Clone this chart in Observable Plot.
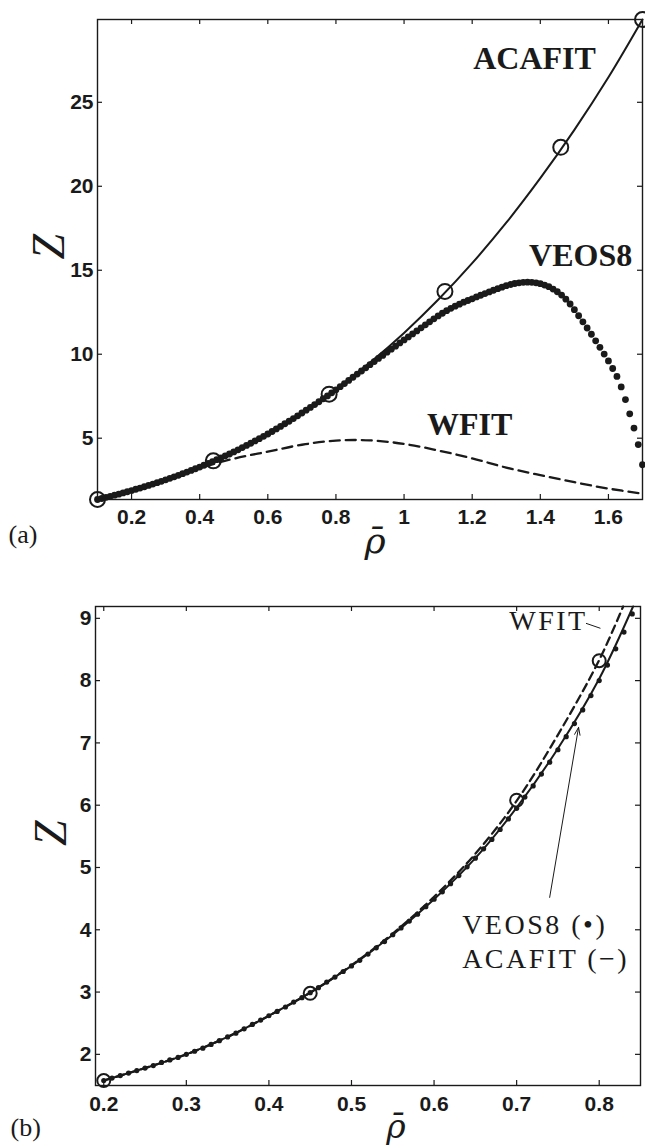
<!DOCTYPE html>
<html><head><meta charset="utf-8">
<script src="https://cdn.jsdelivr.net/npm/d3@7"></script>
<script src="https://cdn.jsdelivr.net/npm/@observablehq/plot@0.6"></script>
<style>
body{margin:0;background:#fff;}
#chart{width:645px;height:1148px;overflow:hidden;background:#fff;}
#chart svg{display:block;}
</style></head><body><div id="chart"></div>
<script>
// ---------- Panel (a) data ----------
const fitRhoA = [0.1,0.2,0.3,0.4,0.5,0.6,0.7,0.8,0.9,1.0,1.1,1.2,1.3,1.4,1.5,1.6,1.7];
const acafitA = [1.35,1.88,2.52,3.30,4.22,5.29,6.52,7.92,9.50,11.27,13.24,15.42,17.83,20.48,23.36,26.49,29.93];
const wfitA   = [1.35,1.88,2.52,3.22,3.78,4.20,4.61,4.86,4.87,4.66,4.27,3.80,3.25,2.80,2.38,2.00,1.70];
const veosRhoA0 = 0.1, veosRhoAStep = 0.0125;
const veosA = [1.35,1.41,1.48,1.54,1.61,1.67,1.74,1.81,1.88,
 1.96,2.03,2.11,2.19,2.27,2.35,2.43,2.52,
 2.61,2.70,2.79,2.89,2.98,3.08,3.18,3.28,
 3.39,3.50,3.61,3.72,3.83,3.95,4.06,4.18,
 4.31,4.44,4.57,4.70,4.84,4.97,5.11,5.25,
 5.40,5.55,5.70,5.86,6.01,6.17,6.33,6.50,
 6.67,6.83,7.00,7.17,7.35,7.52,7.70,7.88,
 8.07,8.25,8.44,8.63,8.82,9.00,9.19,9.38,
 9.56,9.75,9.93,10.12,10.30,10.48,10.67,10.85,
 11.03,11.21,11.39,11.57,11.75,11.93,12.11,12.28,
 12.44,12.59,12.73,12.86,12.98,13.10,13.20,13.30,
 13.41,13.51,13.61,13.71,13.81,13.90,13.99,14.08,
 14.15,14.21,14.25,14.28,14.29,14.28,14.25,14.20,
 14.12,14.02,13.88,13.72,13.52,13.28,12.99,12.65,
 12.29,11.93,11.56,11.19,10.80,10.41,10.01,9.60,
 9.15,8.68,8.05,7.30,6.45,5.60,4.62,3.42];
const circRhoA = [0.1,0.44,0.78,1.12,1.46,1.7];
const circZA   = [1.35,3.65,7.62,13.74,22.32,29.93];
const xTicksA = [0.2,0.4,0.6,0.8,1,1.2,1.4,1.6];
const yTicksA = [5,10,15,20,25];
const labelTextA = ["ACAFIT","VEOS8","WFIT"];
const labelRhoA  = [1.203,1.367,1.067];
const labelZA    = [26.99,15.23,5.2];

// ---------- Panel (b) data ----------
const fitRhoB  = [0.2,0.25,0.3,0.35,0.4,0.45,0.5,0.55,0.6,0.65,0.7,0.75,0.8,0.841];
const acafitB  = [1.58,1.78,2.00,2.28,2.62,2.99,3.42,3.92,4.49,5.15,5.96,6.91,8.03,9.19];
const wfitRhoB = [0.2,0.25,0.3,0.35,0.4,0.45,0.5,0.55,0.6,0.65,0.7,0.75,0.8,0.829];
const wfitB    = [1.58,1.78,2.00,2.28,2.62,2.99,3.43,3.94,4.53,5.22,6.07,7.13,8.33,9.19];
const veosRhoB0 = 0.2, veosRhoBStep = 0.01;
const veosB = [1.58,1.62,1.66,1.70,1.74,1.78,1.82,1.87,1.91,1.95,
 2.00,2.05,2.10,2.16,2.22,2.28,2.34,2.41,2.48,2.55,
 2.62,2.69,2.76,2.84,2.91,2.99,3.07,3.16,3.24,3.33,
 3.42,3.51,3.61,3.71,3.81,3.92,4.03,4.14,4.25,4.37,
 4.49,4.61,4.74,4.87,5.01,5.15,5.30,5.45,5.61,5.78,
 5.95,6.13,6.31,6.50,6.69,6.89,7.10,7.31,7.53,7.76,
 8.00,8.25,8.51,8.78,9.07];
const circRhoB = [0.2,0.45,0.7,0.8];
const circZB   = [1.58,2.98,6.08,8.32];
const xTicksB = [0.2,0.3,0.4,0.5,0.6,0.7,0.8];
const yTicksB = [2,3,4,5,6,7,8,9];
const labelTextB = ["WFIT","VEOS8 (\u2022)","ACAFIT (\u2212)"];
const labelRhoB  = [0.691,0.634,0.634];
const labelZB    = [8.81,3.94,3.38];
const leaderB = [{x1:0.784,y1:8.92,x2:0.8015,y2:8.84}];
const arrowB  = [{x1:0.740,y1:4.52,x2:0.775,y2:7.25}];
const xLabel = "\u03C1\u0304";
const yLabel = "Z";

// ---------- helpers ----------
const INK = "#1a1a1a";
const SANS = "'Liberation Sans', Arial, Helvetica, sans-serif";
const SERIF = "'Liberation Serif', 'Times New Roman', serif";
const MATH = "'DejaVu Serif', serif";
const TICK = 5;
const zip = (xs, ys) => xs.map((x, i) => ({x, y: ys[i]}));
const grid = (x0, step, ys) => ys.map((y, i) => ({x: +(x0 + i * step).toFixed(4), y}));

function panel(o) {
  const innerH = o.height - o.m.top - o.m.bottom;
  const innerW = o.width - o.m.left - o.m.right;
  return Plot.plot({
    width: o.width, height: o.height,
    marginTop: o.m.top, marginRight: o.m.right, marginBottom: o.m.bottom, marginLeft: o.m.left,
    style: {fontFamily: SANS, fontSize: "21px", fontWeight: "bold", color: INK, background: "white"},
    x: {domain: o.xDomain, ticks: o.xTicks, tickFormat: d => String(d), tickSize: 0, tickPadding: o.xPad, label: null},
    y: {domain: o.yDomain, ticks: o.yTicks, tickFormat: d => String(d), tickSize: 0, tickPadding: o.yPad, label: null},
    marks: [
      ...o.marks,
      Plot.tickX(o.xTicks, {x: d => d, insetTop: innerH - TICK, stroke: INK, strokeWidth: 1.2}),
      Plot.tickX(o.xTicks, {x: d => d, insetBottom: innerH - TICK, stroke: INK, strokeWidth: 1.2}),
      Plot.tickY(o.yTicks, {y: d => d, insetRight: innerW - TICK, stroke: INK, strokeWidth: 1.2}),
      Plot.tickY(o.yTicks, {y: d => d, insetLeft: innerW - TICK, stroke: INK, strokeWidth: 1.2}),
      Plot.frame({stroke: INK, strokeWidth: 1.4}),
      Plot.text([yLabel], {frameAnchor: "left", dx: o.zdx, rotate: -90, fontFamily: SERIF, fontStyle: "italic", fontWeight: "normal", fontSize: 46, fill: INK}),
      Plot.text([xLabel], {frameAnchor: "bottom", dx: o.rhodx, dy: o.rhody, lineAnchor: "bottom", fontFamily: MATH, fontStyle: "italic", fontWeight: "normal", fontSize: o.rhoSize, fill: INK}),
      Plot.text([o.tag], {frameAnchor: "bottom-left", dx: o.tagdx, dy: o.tagdy, textAnchor: "start", lineAnchor: "bottom", fontFamily: SERIF, fontWeight: "normal", fontSize: 26, fill: INK})
    ]
  });
}

const svgA = panel({
  width: 645, height: 560, m: {top: 19, right: 3, bottom: 61, left: 97},
  xDomain: [0.1, 1.7], yDomain: [1.35, 29.93], xTicks: xTicksA, yTicks: yTicksA, xPad: 10, yPad: 4,
  zdx: -48, rhoSize: 36, rhodx: 5, rhody: 53, tag: "(a)", tagdx: -89, tagdy: 43,
  marks: [
    Plot.line(zip(fitRhoA, wfitA), {x: "x", y: "y", stroke: INK, strokeWidth: 2.3, strokeDasharray: "10,6", curve: "catmull-rom"}),
    Plot.line(zip(fitRhoA, acafitA), {x: "x", y: "y", stroke: INK, strokeWidth: 2, curve: "catmull-rom"}),
    Plot.dot(grid(veosRhoA0, veosRhoAStep, veosA), {x: "x", y: "y", r: 3.4, fill: INK, stroke: "none"}),
    Plot.dot(zip(circRhoA, circZA), {x: "x", y: "y", r: 7.5, stroke: INK, strokeWidth: 2, fill: "none"}),
    Plot.text(labelTextA.map((t, i) => ({t, x: labelRhoA[i], y: labelZA[i]})), {x: "x", y: "y", text: "t", textAnchor: "start", lineAnchor: "bottom", fontFamily: SERIF, fontWeight: "bold", fontSize: 32, fill: INK})
  ]
});

const svgB = panel({
  width: 645, height: 588, m: {top: 46, right: 5, bottom: 63, left: 95},
  xDomain: [0.19, 0.85], yDomain: [1.5, 9.19], xTicks: xTicksB, yTicks: yTicksB, xPad: 11, yPad: 4,
  zdx: -44, rhoSize: 33, rhodx: 28, rhody: 52, tag: "(b)", tagdx: -85, tagdy: 50,
  marks: [
    Plot.line(zip(wfitRhoB, wfitB), {x: "x", y: "y", stroke: INK, strokeWidth: 2.3, strokeDasharray: "8,5", curve: "catmull-rom"}),
    Plot.line(zip(fitRhoB, acafitB), {x: "x", y: "y", stroke: INK, strokeWidth: 2, curve: "catmull-rom"}),
    Plot.dot(grid(veosRhoB0, veosRhoBStep, veosB), {x: "x", y: "y", r: 2.6, fill: INK, stroke: "none"}),
    Plot.dot(zip(circRhoB, circZB), {x: "x", y: "y", r: 6.5, stroke: INK, strokeWidth: 2, fill: "none"}),
    Plot.link(leaderB, {x1: "x1", y1: "y1", x2: "x2", y2: "y2", stroke: INK, strokeWidth: 1}),
    Plot.arrow(arrowB, {x1: "x1", y1: "y1", x2: "x2", y2: "y2", stroke: INK, strokeWidth: 1, headLength: 12, headAngle: 40}),
    Plot.text(labelTextB.map((t, i) => ({t, x: labelRhoB[i], y: labelZB[i]})), {x: "x", y: "y", text: "t", textAnchor: "start", lineAnchor: "bottom", fontFamily: SERIF, fontWeight: "normal", fontSize: 28, fill: INK})
  ]
});

svgB.querySelectorAll("text").forEach(t => {
  if (labelTextB.includes(t.textContent)) t.setAttribute("letter-spacing", "2.5");
});

const chart = document.getElementById("chart");
chart.appendChild(svgA);
chart.appendChild(svgB);
</script></body></html>
